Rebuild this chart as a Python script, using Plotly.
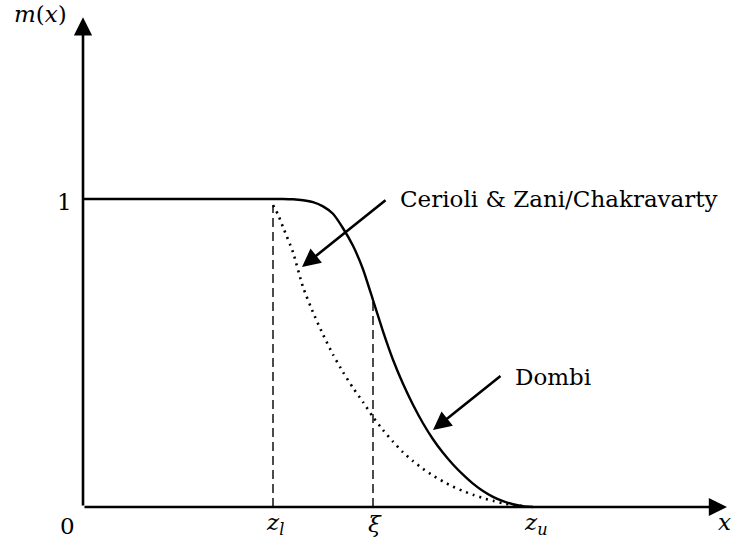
import numpy as np
import plotly.graph_objects as go

# ---- data (x in arbitrary units, origin at 0) ----
z_l = 1.90
xi = 2.90
z_u = 4.44
x_end = 6.44      # end of x axis (arrow tip)
y_end = 1.59      # end of y axis (arrow tip)

dombi_x = [0.00, 1.00, 2.00, 2.10, 2.20, 2.30, 2.40, 2.50, 2.60, 2.70, 2.80, 2.90, 3.00,
           3.10, 3.20, 3.30, 3.40, 3.50, 3.60, 3.70, 3.80, 3.90, 4.00, 4.10, 4.20, 4.30,
           4.40, 4.50]
dombi_y = [1.000, 1.000, 1.000, 0.999, 0.996, 0.990, 0.976, 0.952, 0.905, 0.848, 0.772,
           0.672, 0.570, 0.478, 0.400, 0.332, 0.272, 0.220, 0.176, 0.138, 0.105, 0.076,
           0.052, 0.033, 0.019, 0.009, 0.003, 0.000]

cz_x = [1.90, 1.95, 2.00, 2.10, 2.20, 2.30, 2.40, 2.50, 2.60, 2.70, 2.80, 2.90, 3.00,
        3.10, 3.20, 3.30, 3.40, 3.50, 3.60, 3.70, 3.80, 3.90, 4.00, 4.10, 4.20, 4.30, 4.44]
cz_y = [0.980, 0.950, 0.909, 0.827, 0.714, 0.632, 0.560, 0.495, 0.438, 0.387, 0.341,
        0.292, 0.250, 0.212, 0.178, 0.149, 0.124, 0.102, 0.083, 0.066, 0.052, 0.040,
        0.029, 0.020, 0.012, 0.006, 0.002]

tick_labels = ["0", "<i>z</i><sub><i>l</i></sub>", "<i>ξ</i>", "<i>z</i><sub><i>u</i></sub>"]
label_cz = "Cerioli &amp; Zani/Chakravarty"
label_dombi = "Dombi"

FONT = "DejaVu Serif"
BLACK = "#000000"

fig = go.Figure()

# Dombi (solid)
fig.add_trace(go.Scatter(x=dombi_x, y=dombi_y, mode="lines",
                         line=dict(color=BLACK, width=2.4, shape="spline", smoothing=0.5),
                         hoverinfo="skip", showlegend=False))
# Cerioli & Zani / Chakravarty (dotted)
fig.add_trace(go.Scatter(x=cz_x, y=cz_y, mode="lines",
                         line=dict(color=BLACK, width=2.6, dash="2px,5px", shape="spline", smoothing=0.5),
                         hoverinfo="skip", showlegend=False))

# dashed verticals
zl_top = cz_y[0]
xi_top = float(np.interp(xi, dombi_x, dombi_y))
for xv, yt in [(z_l, zl_top), (xi, xi_top)]:
    fig.add_trace(go.Scatter(x=[xv, xv], y=[0, yt], mode="lines",
                             line=dict(color=BLACK, width=1.4, dash="9px,5px"),
                             hoverinfo="skip", showlegend=False))

# axes with arrows
arrow_common = dict(xref="x", yref="y", axref="x", ayref="y", text="", showarrow=True,
                    arrowhead=2, arrowsize=1.4, arrowwidth=2.6, arrowcolor=BLACK)
fig.add_annotation(x=x_end, y=0, ax=0, ay=0, **arrow_common)
fig.add_annotation(x=0, y=y_end, ax=0, ay=0, **arrow_common)

# pointer arrows
fig.add_annotation(x=2.19, y=0.779, ax=3.04, ay=1.0, **arrow_common)
fig.add_annotation(x=3.50, y=0.25, ax=4.19, ay=0.429, **arrow_common)

# labels
fnt = dict(family=FONT, size=23, color=BLACK)
fig.add_annotation(x=3.15, y=1.0, text=label_cz, showarrow=False, xanchor="left",
                   yanchor="middle", font=fnt)
fig.add_annotation(x=4.30, y=0.422, text=label_dombi, showarrow=False, xanchor="left",
                   yanchor="middle", font=fnt)

# tick labels
fig.add_annotation(x=-0.19, y=0.99, text="1", showarrow=False, font=fnt)
tick_pos = [-0.16, z_l + 0.02, xi + 0.02, z_u + 0.09]
tick_y = [-0.062, -0.055, -0.055, -0.055]
for tx, ty, tl in zip(tick_pos, tick_y, tick_labels):
    fig.add_annotation(x=tx, y=ty, text=tl, showarrow=False, font=fnt)
fig.add_annotation(x=x_end - 0.03, y=-0.049, text="<i>x</i>", showarrow=False, font=fnt)
fig.add_annotation(x=-0.43, y=y_end + 0.01, text="<i>m</i>(<i>x</i>)", showarrow=False, font=fnt)

fig.update_layout(
    width=733, height=546,
    margin=dict(l=0, r=0, t=0, b=0),
    paper_bgcolor="white", plot_bgcolor="white",
    xaxis=dict(range=[-0.83, 6.50], visible=False, fixedrange=True),
    yaxis=dict(range=[-0.1266, 1.6461], visible=False, fixedrange=True),
    showlegend=False,
)

fig.write_html("out.html", config={"displayModeBar": False},
               post_script="document.body.style.margin='0';document.body.style.overflow='hidden';")
